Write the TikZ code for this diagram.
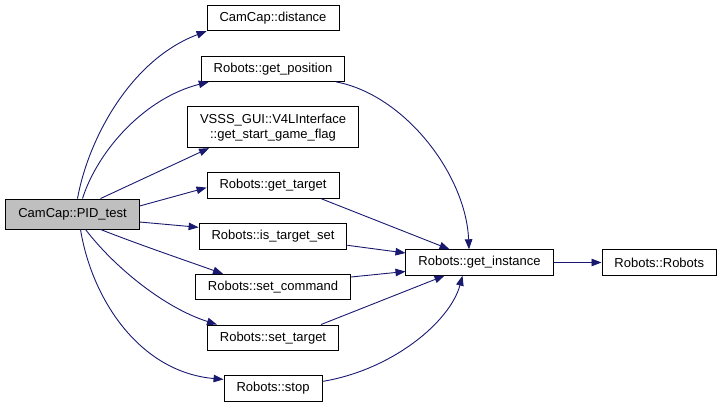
\documentclass[tikz,border=0pt]{standalone}
\usepackage{fontspec}
\setmainfont{Liberation Sans}
\usepackage{xcolor}
\definecolor{EdgeBlue}{HTML}{191970}
\definecolor{CurGray}{HTML}{BFBFBF}
\usetikzlibrary{positioning,calc,arrows.meta}
\tikzset{
  fn/.style={draw=black,fill=white,line width=0.9pt,inner xsep=12.5pt,inner ysep=0pt,
    minimum height=25.5pt,align=center,font=\fontsize{13}{15}\selectfont},
  fncur/.style={fn,fill=CurGray,minimum height=30pt},
  call/.style={-{Triangle[length=10pt,width=7.5pt]},draw=EdgeBlue,line width=0.9pt},
}

\begin{document}
\begin{tikzpicture}[x=1pt,y=-1pt,node distance=24.3pt]
\useasboundingbox (0,0) rectangle (721,408);
% caller
\node[fncur] (pid) at (72.5,214) {CamCap::PID\_test};
% called functions
\node[fn] (distance) at (273,18) {CamCap::distance};
\node[fn,below=of distance] (getpos) {Robots::get\_position};
\node[fn,below=of getpos,minimum height=41pt] (v4l)
  {VSSS\_GUI::V4LInterface\\::get\_start\_game\_flag};
\node[fn,below=of v4l] (gettarget) {Robots::get\_target};
\node[fn,below=of gettarget] (istarget) {Robots::is\_target\_set};
\node[fn,below=of istarget] (setcmd) {Robots::set\_command};
\node[fn,below=of setcmd] (settarget) {Robots::set\_target};
\node[fn,below=of settarget] (stop) {Robots::stop};
\node[fn] (getinst) at (479.5,262.5) {Robots::get\_instance};
\node[fn,right=48pt of getinst] (robots) {Robots::Robots};

% PID_test -> callees
\draw[call] ([xshift=5pt]pid.north) .. controls (88,140) and (130,60) .. (distance.south west);
\draw[call] ([xshift=10pt]pid.north) .. controls (98,150) and (145,98) .. ([xshift=8pt]getpos.south west);
\draw[call] ([xshift=28pt]pid.north) -- ([xshift=22pt]v4l.south west);
\draw[call] ([yshift=8pt]pid.east) -- ([yshift=-2pt]gettarget.west);
\draw[call] ([yshift=-8pt]pid.east) -- ([yshift=9pt]istarget.west);
\draw[call] ([xshift=28pt]pid.south) .. controls (140,245) and (190,262) .. ([xshift=28pt]setcmd.north west);
\draw[call] ([xshift=13pt]pid.south) .. controls (115,268) and (165,308) .. ([xshift=10pt]settarget.north west);
\draw[call] ([xshift=8pt]pid.south) .. controls (92,300) and (140,372) .. ([yshift=9pt]stop.west);

% callees -> get_instance
\draw[call] ([xshift=-9pt]getpos.south east) .. controls (405,95) and (466,175) .. ([xshift=-10.5pt]getinst.north);
\draw[call] ([xshift=-18pt]gettarget.south east) -- ([xshift=-30pt]getinst.north);
\draw[call] ([yshift=-9pt]istarget.east) -- ([yshift=9.5pt]getinst.west);
\draw[call] ([yshift=10pt]setcmd.east) -- ([yshift=-9pt]getinst.west);
\draw[call] ([xshift=-18pt]settarget.north east) -- ([xshift=-35pt]getinst.south);
\draw[call] ([yshift=7pt]stop.east) .. controls (392,370) and (450,322) .. ([xshift=-17pt]getinst.south);
\draw[call] (getinst) -- (robots);
\end{tikzpicture}
\end{document}
